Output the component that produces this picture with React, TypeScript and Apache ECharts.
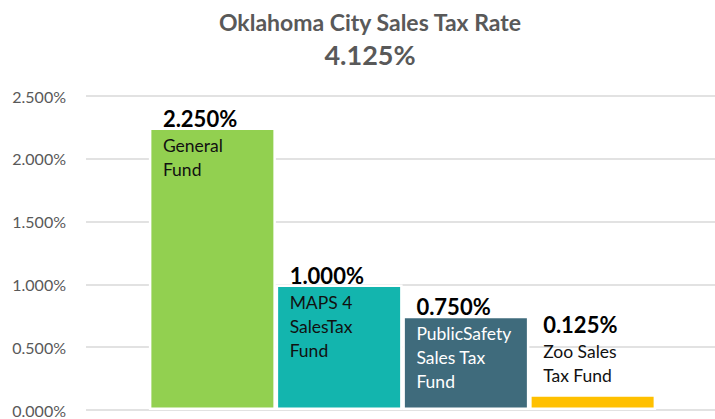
import React, { useEffect, useRef } from "react";
import * as echarts from "echarts";

const titleText = "Oklahoma City Sales Tax Rate";
const subtitleText = "4.125%";
const categories = ["General Fund", "MAPS 4 Sales Tax Fund", "Public Safety Sales Tax Fund", "Zoo Sales Tax Fund"];
const labelLines = [["General", "Fund"], ["MAPS 4", "SalesTax", "Fund"], ["PublicSafety", "Sales Tax", "Fund"], ["Zoo Sales", "Tax Fund"]];
const values = [2.25, 1.0, 0.75, 0.125];
const colors = ["#92D050", "#13B5AE", "#3F6B7C", "#FFC000"];
const nameColors = ["#111111", "#111111", "#FFFFFF", "#111111"];
const yMin = 0;
const yMax = 2.5;
const yInterval = 0.5;

const FONT = "Lato";

export default function App() {
  const ref = useRef<HTMLDivElement>(null);
  useEffect(() => {
    document.body.style.margin = "0";
    if (!ref.current) return;
    const chart = echarts.init(ref.current, null, { renderer: "svg" });
    const data = values.map((v, i) => ({
      value: v,
      itemStyle: { color: colors[i] },
      label: {
        offset: i === 3 ? [14, -85] : [14, -24],
        formatter: () =>
          "{v|" + v.toFixed(3) + "%}\n" + labelLines[i].map((l) => "{n" + i + "|" + l + "}").join("\n"),
      },
    }));
    const rich: any = {
      v: { fontFamily: FONT, fontSize: 22, fontWeight: "bold", color: "#000", lineHeight: 30 },
    };
    nameColors.forEach((c, i) => {
      rich["n" + i] = { fontFamily: FONT, fontSize: 17.5, color: c, lineHeight: 24 };
    });
    chart.setOption({
      animation: false,
      textStyle: { fontFamily: FONT },
      graphic: [
        {
          type: "text",
          x: 370,
          y: 10,
          style: { text: titleText, align: "center", verticalAlign: "top", fontFamily: FONT, fontSize: 23, fontWeight: "bold", fill: "#595959" },
        },
        {
          type: "text",
          x: 370,
          y: 41,
          style: { text: subtitleText, align: "center", verticalAlign: "top", fontFamily: FONT, fontSize: 27, fontWeight: "bold", fill: "#595959" },
        },
      ],
      grid: [
        { left: 86, right: 0, top: 96, bottom: 9, containLabel: false },
        { left: 149, width: 507, top: 96, bottom: 9, containLabel: false },
      ],
      xAxis: [
        { type: "category", gridIndex: 0, data: categories, show: false },
        { type: "category", gridIndex: 1, data: categories, show: false },
      ],
      yAxis: [
        {
          type: "value",
          gridIndex: 0,
          min: yMin,
          max: yMax,
          interval: yInterval,
          axisLine: { show: false },
          axisTick: { show: false },
          splitLine: { lineStyle: { color: "#D9D9D9", width: 1.5 } },
          axisLabel: {
            margin: 20,
            fontFamily: FONT,
            fontSize: 16,
            color: "#595959",
            formatter: (v: number) => v.toFixed(3) + "%",
          },
        },
        { type: "value", gridIndex: 1, min: yMin, max: yMax, interval: yInterval, show: false },
      ],
      series: [
        {
          type: "bar",
          xAxisIndex: 1,
          yAxisIndex: 1,
          barWidth: 127,
          data,
          itemStyle: { borderColor: "#FFFFFF", borderWidth: 2.5 },
          label: { show: true, position: "insideTopLeft", distance: 0, rich },
        },
      ],
    });
    return () => chart.dispose();
  }, []);
  return <div ref={ref} style={{ width: 715, height: 419 }} />;
}
